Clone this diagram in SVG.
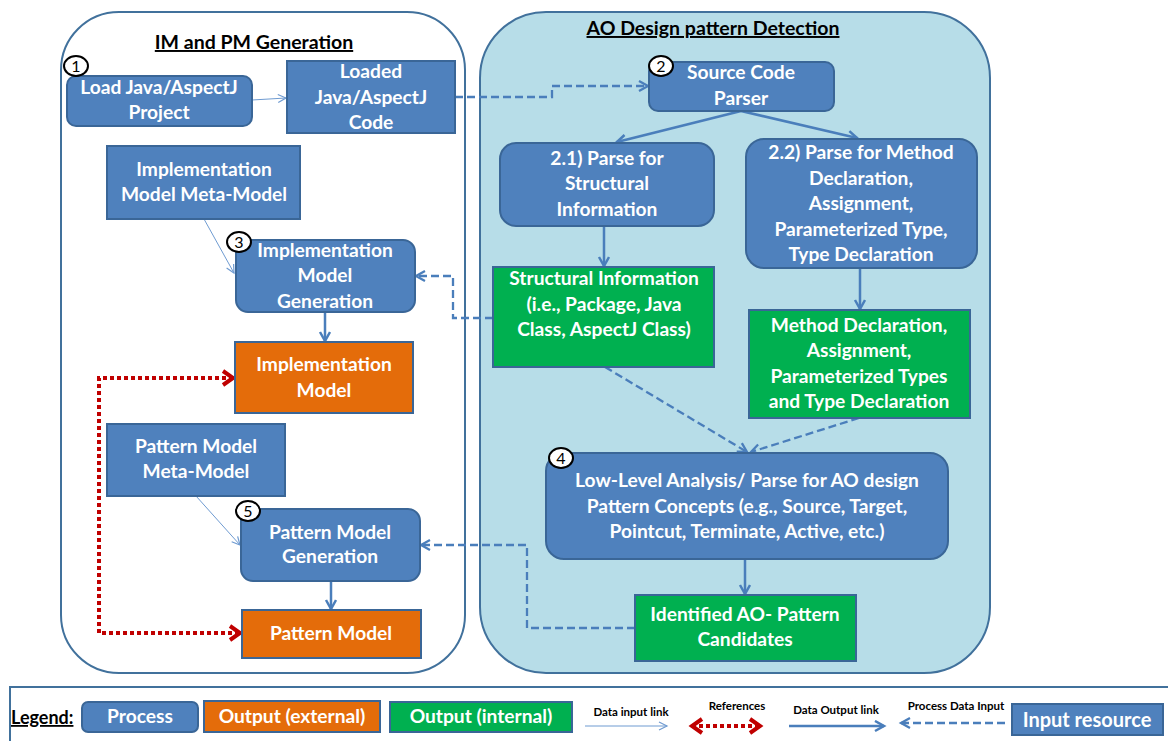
<svg xmlns="http://www.w3.org/2000/svg" width="1168" height="741" viewBox="0 0 1168 741">
  <style>
    text { font-family: "Lato", "Liberation Sans", sans-serif; font-weight: bold; }
    .lbl { fill: #ffffff; font-size: 19.2px; text-anchor: middle; }
    .title { fill: #000000; font-size: 19.5px; text-anchor: middle; text-decoration: underline; }
    .proc { fill: #4f81bd; stroke: #3a6697; stroke-width: 2; }
    .ext { fill: #e46c0a; stroke: #3a6697; stroke-width: 2; }
    .int { fill: #00b050; stroke: #3a6697; stroke-width: 2; }
    .badge { fill: #ffffff; stroke: #000000; stroke-width: 2; }
    .num { fill: #000000; font-size: 16px; font-weight: normal; text-anchor: middle; }
    .out { fill: none; stroke: #4a7ebb; stroke-width: 2.5; marker-end: url(#solidHead); }
    .inp { fill: none; stroke: #6f9bd1; stroke-width: 1; marker-end: url(#thinHead); }
    .pdi { fill: none; stroke: #4a7ebb; stroke-width: 2.3; stroke-dasharray: 8 4; marker-end: url(#dashHead); }
    .ref { fill: none; stroke: #c00000; stroke-width: 4; stroke-dasharray: 4 3; marker-end: url(#redHead); marker-start: url(#redHead); }
    .leg { fill: #000000; font-size: 11.5px; text-anchor: middle; }
  </style>
  <defs>
    <marker id="solidHead" markerUnits="userSpaceOnUse" markerWidth="14" markerHeight="14" refX="10" refY="6" orient="auto">
      <path d="M1,1 L10,6 L1,11" fill="none" stroke="#4a7ebb" stroke-width="2.5"/>
    </marker>
    <marker id="thinHead" markerUnits="userSpaceOnUse" markerWidth="12" markerHeight="12" refX="9" refY="5" orient="auto">
      <path d="M1,1 L9,5 L1,9" fill="none" stroke="#6f9bd1" stroke-width="1.2"/>
    </marker>
    <marker id="dashHead" markerUnits="userSpaceOnUse" markerWidth="14" markerHeight="14" refX="10" refY="6" orient="auto">
      <path d="M1,1 L10,6 L1,11" fill="none" stroke="#4a7ebb" stroke-width="2.3"/>
    </marker>
    <marker id="redHead" markerUnits="userSpaceOnUse" markerWidth="18" markerHeight="20" refX="12" refY="9" orient="auto-start-reverse">
      <path d="M2,2 L12,9 L2,16" fill="none" stroke="#c00000" stroke-width="4"/>
    </marker>
  </defs>

  <rect width="1168" height="741" fill="#ffffff"/>

  <!-- containers -->
  <g id="im-pm-generation">
    <rect x="61" y="12" width="404" height="661" rx="58" ry="58" fill="#ffffff" stroke="#41719c" stroke-width="2"/>
    <text class="title" x="254" y="49">IM and PM Generation</text>
  </g>
  <g id="ao-detection">
    <rect x="480" y="12" width="510" height="661" rx="66" ry="66" fill="#b7dde8" stroke="#41719c" stroke-width="2"/>
    <text class="title" x="713" y="35">AO Design pattern Detection</text>
  </g>

  <!-- connectors -->
  <g id="connectors">
    <path class="inp" d="M252,100 L286,98"/>
    <path class="pdi" d="M455,97 L552,97 L552,86 L648,86"/>
    <path class="out" d="M741,111 L617,142"/>
    <path class="out" d="M741,111 L857,138"/>
    <path class="out" d="M604,226 L604,266"/>
    <path class="out" d="M860,268 L860,309"/>
    <path class="pdi" d="M605,367 L747,452"/>
    <path class="pdi" d="M859,418 L751,452"/>
    <path class="out" d="M745,559 L745,594"/>
    <path class="pdi" d="M635,628 L527,628 L527,545 L421,545"/>
    <path class="pdi" d="M493,318 L453,318 L453,276 L416,276"/>
    <path class="inp" d="M204,219 L234,273"/>
    <path class="out" d="M325,312 L325,341"/>
    <path class="inp" d="M196,496 L240,545"/>
    <path class="out" d="M331,581 L331,609"/>
    <path class="ref" d="M233,378 L99,378 L99,633 L240,633"/>
  </g>

  <!-- IM and PM generation nodes -->
  <g id="load-project">
    <rect class="proc" x="67" y="76" width="185" height="50" rx="9"/>
    <text class="lbl" x="159" y="94">Load Java/AspectJ</text>
    <text class="lbl" x="159" y="119">Project</text>
    <ellipse class="badge" cx="76" cy="66" rx="12" ry="10"/>
    <text class="num" x="76" y="72">1</text>
  </g>
  <g id="loaded-code">
    <rect class="proc" x="287" y="61" width="168" height="72"/>
    <text class="lbl" x="371" y="78">Loaded</text>
    <text class="lbl" x="371" y="104">Java/AspectJ</text>
    <text class="lbl" x="371" y="129">Code</text>
  </g>
  <g id="im-meta-model">
    <rect class="proc" x="107" y="146" width="193" height="73"/>
    <text class="lbl" x="204" y="176">Implementation</text>
    <text class="lbl" x="204" y="201">Model Meta-Model</text>
  </g>
  <g id="im-generation">
    <rect class="proc" x="236" y="240" width="179" height="72" rx="12"/>
    <text class="lbl" x="325" y="257">Implementation</text>
    <text class="lbl" x="325" y="282">Model</text>
    <text class="lbl" x="325" y="308">Generation</text>
    <ellipse class="badge" cx="239" cy="242" rx="12" ry="10"/>
    <text class="num" x="239" y="248">3</text>
  </g>
  <g id="implementation-model">
    <rect class="ext" x="235" y="342" width="178" height="71"/>
    <text class="lbl" x="324" y="371">Implementation</text>
    <text class="lbl" x="324" y="397">Model</text>
  </g>
  <g id="pm-meta-model">
    <rect class="proc" x="107" y="424" width="178" height="72"/>
    <text class="lbl" x="196" y="453">Pattern Model</text>
    <text class="lbl" x="196" y="478">Meta-Model</text>
  </g>
  <g id="pm-generation">
    <rect class="proc" x="241" y="509" width="179" height="72" rx="12"/>
    <text class="lbl" x="330" y="539">Pattern Model</text>
    <text class="lbl" x="330" y="563">Generation</text>
    <ellipse class="badge" cx="248" cy="511" rx="12" ry="10"/>
    <text class="num" x="248" y="517">5</text>
  </g>
  <g id="pattern-model">
    <rect class="ext" x="242" y="610" width="179" height="48"/>
    <text class="lbl" x="331" y="640">Pattern Model</text>
  </g>

  <!-- AO design pattern detection nodes -->
  <g id="source-parser">
    <rect class="proc" x="649" y="62" width="185" height="49" rx="9"/>
    <text class="lbl" x="741" y="79">Source Code</text>
    <text class="lbl" x="741" y="105">Parser</text>
    <ellipse class="badge" cx="661" cy="66" rx="12" ry="10"/>
    <text class="num" x="661" y="72">2</text>
  </g>
  <g id="parse-structural">
    <rect class="proc" x="500" y="143" width="214" height="83" rx="16"/>
    <text class="lbl" x="607" y="165">2.1) Parse for</text>
    <text class="lbl" x="607" y="190">Structural</text>
    <text class="lbl" x="607" y="216">Information</text>
  </g>
  <g id="parse-method">
    <rect class="proc" x="746" y="139" width="231" height="129" rx="18"/>
    <text class="lbl" x="861" y="159">2.2) Parse for Method</text>
    <text class="lbl" x="861" y="185">Declaration,</text>
    <text class="lbl" x="861" y="210">Assignment,</text>
    <text class="lbl" x="861" y="236">Parameterized Type,</text>
    <text class="lbl" x="861" y="261">Type Declaration</text>
  </g>
  <g id="structural-info">
    <rect class="int" x="493" y="267" width="221" height="100"/>
    <text class="lbl" x="604" y="285">Structural Information</text>
    <text class="lbl" x="604" y="311">(i.e., Package, Java</text>
    <text class="lbl" x="604" y="336">Class, AspectJ Class)</text>
  </g>
  <g id="method-info">
    <rect class="int" x="749" y="310" width="221" height="108"/>
    <text class="lbl" x="859" y="332">Method Declaration,</text>
    <text class="lbl" x="859" y="357">Assignment,</text>
    <text class="lbl" x="859" y="383">Parameterized Types</text>
    <text class="lbl" x="859" y="408">and Type Declaration</text>
  </g>
  <g id="low-level-analysis">
    <rect class="proc" x="546" y="453" width="402" height="106" rx="18"/>
    <text class="lbl" x="747" y="487">Low-Level Analysis/ Parse for AO design</text>
    <text class="lbl" x="747" y="513">Pattern Concepts (e.g.,  Source, Target,</text>
    <text class="lbl" x="747" y="538">Pointcut, Terminate, Active, etc.)</text>
    <ellipse class="badge" cx="561" cy="458" rx="12" ry="10"/>
    <text class="num" x="561" y="464">4</text>
  </g>
  <g id="pattern-candidates">
    <rect class="int" x="635" y="595" width="221" height="66"/>
    <text class="lbl" x="745" y="621">Identified AO- Pattern</text>
    <text class="lbl" x="745" y="646">Candidates</text>
  </g>

  <!-- legend -->
  <g id="legend">
    <rect x="10" y="687" width="1170" height="70" fill="#ffffff" stroke="#41719c" stroke-width="2"/>
    <text x="11" y="724" font-size="18" fill="#000000" text-decoration="underline">Legend:</text>
    <rect class="proc" x="82" y="702" width="116" height="30" rx="6"/>
    <text class="lbl" x="140" y="723">Process</text>
    <rect class="ext" x="204" y="701" width="176" height="31"/>
    <text class="lbl" x="292" y="723">Output (external)</text>
    <rect class="int" x="390" y="702" width="182" height="30"/>
    <text class="lbl" x="481" y="723">Output (internal)</text>
    <text class="leg" x="631" y="716">Data input link</text>
    <path class="inp" d="M585,726 L667,726"/>
    <text class="leg" x="737" y="710">References</text>
    <path class="ref" d="M692,726 L760,726"/>
    <text class="leg" x="836" y="714">Data Output link</text>
    <path class="out" d="M789,726 L884,726"/>
    <text class="leg" x="956" y="710">Process Data Input</text>
    <path class="pdi" d="M1005,723 L901,723"/>
    <rect class="proc" x="1012" y="704" width="151" height="31"/>
    <text x="1087" y="727" font-size="20" font-weight="normal" fill="#ffffff" text-anchor="middle">Input resource</text>
  </g>
</svg>
